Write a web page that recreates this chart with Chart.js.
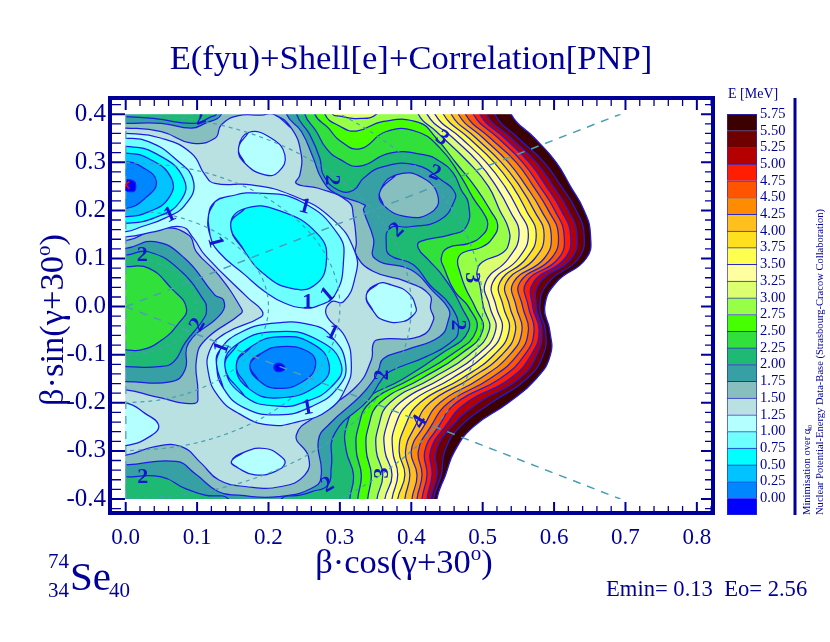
<!DOCTYPE html>
<html><head><meta charset="utf-8">
<style>html,body{margin:0;padding:0;background:#fff}#wrap{position:relative;width:830px;height:642px;overflow:hidden}canvas{position:absolute;display:block}</style>
<script src="https://cdn.jsdelivr.net/npm/chart.js@4"></script>
</head><body><div id="wrap"><canvas id="main" width="830" height="642" style="left:0;top:0"></canvas><canvas id="bar" width="130" height="430" style="left:700px;top:100px"></canvas></div>
<script>
const betaRows=[.40,.35,.30,.25,.20,.15,.10,.05,0,-.05,-.10,-.15,-.20,-.25,-.30,-.35,-.40];
const e575=[.540,.573,.603,.623,.642,.651,.645,.603,.587,.594,.595,.575,.536,.487,.461,.448,.436];
const e550=[.517,.550,.586,.610,.631,.642,.634,.592,.580,.588,.585,.562,.512,.468,.447,.442,.431];
const e525=[.505,.540,.575,.599,.620,.632,.624,.580,.575,.583,.576,.551,.494,.456,.435,.436,.427];
const e500=[.496,.531,.565,.589,.610,.623,.615,.571,.570,.579,.568,.538,.477,.447,.427,.429,.422];
const e475=[.487,.522,.556,.580,.601,.614,.606,.561,.564,.572,.559,.524,.463,.438,.419,.422,.415];
const e450=[.476,.511,.547,.571,.592,.606,.596,.552,.556,.564,.549,.510,.452,.427,.410,.415,.408];
const e425=[.466,.501,.536,.561,.582,.596,.586,.543,.547,.555,.538,.496,.440,.417,.400,.408,.401];
const e400=[.456,.491,.526,.552,.572,.586,.573,.533,.538,.546,.527,.482,.426,.405,.392,.398,.391];
const e375=[.445,.481,.516,.542,.561,.575,.561,.524,.529,.537,.516,.470,.412,.391,.383,.391,.381];
const e350=[.433,.470,.505,.531,.550,.564,.550,.514,.519,.527,.504,.456,.398,.377,.374,.381,.373];
const e325=[.422,.459,.494,.519,.538,.551,.536,.504,.510,.518,.493,.442,.384,.365,.363,.373,.363];
const e300=[[.41,.44],[.41,.40],[.435,.364],[.480,.300],[.508,.250],[.524,.200],[.536,.163],[.537,.134],[.528,.112],[.500,.093],[.492,.072],[.496,.045],[.501,0],[.509,-.05],[.481,-.10],[.428,-.15],[.370,-.20],[.354,-.25],[.351,-.30],[.360,-.35],[.352,-.40],[.352,-.44],[-.05,-.44],[-.05,.44]];
const e300top=[[.283,.44],[.29,.40],[.30,.396],[.323,.391],[.351,.40],[.36,.44]];
const e275=[[.279,.44],[.279,.40],[.30,.375],[.323,.365],[.361,.385],[.410,.383],[.435,.35],[.463,.298],[.491,.246],[.512,.197],[.521,.17],[.514,.143],[.499,.124],[.472,.112],[.465,.097],[.468,.073],[.476,.038],[.489,0],[.500,-.05],[.468,-.10],[.414,-.15],[.356,-.20],[.340,-.25],[.337,-.30],[.344,-.35],[.339,-.40],[.339,-.44],[-.05,-.44],[-.05,.44]];
const e250=[[.265,.44],[.265,.40],[.284,.371],[.30,.345],[.328,.328],[.365,.364],[.407,.364],[.44,.33],[.468,.274],[.487,.225],[.503,.19],[.507,.17],[.50,.149],[.482,.132],[.451,.122],[.442,.101],[.446,.08],[.461,.031],[.48,0],[.491,-.05],[.456,-.10],[.40,-.15],[.342,-.20],[.326,-.25],[.323,-.30],[.33,-.35],[.325,-.40],[.325,-.44],[-.05,-.44],[-.05,.44]];
const e225=[[.251,.44],[.251,.40],[.267,.364],[.281,.329],[.30,.306],[.328,.292],[.37,.319],[.417,.316],[.44,.302],[.459,.277],[.47,.2425],[.48,.215],[.477,.166],[.454,.149],[.412,.135],[.41,.121],[.424,.097],[.445,.062],[.47,0],[.48,-.05],[.44,-.10],[.389,-.15],[.328,-.20],[.309,-.25],[.309,-.30],[.319,-.35],[.314,-.40],[.314,-.44],[-.05,-.44],[-.05,.44]];
const e225left=[[-.05,.083],[0,.083],[.032,.08],[.064,.038],[.085,-.003],[.074,-.035],[.05,-.07],[.022,-.09],[0,-.09],[-.05,-.09]];
const e200=[[.24,.44],[.2394,.40],[.258,.357],[.272,.308],[.277,.273],[.298,.242],[.319,.242],[.333,.267],[.361,.291],[.407,.294],[.445,.26],[.459,.2425],[.461,.222],[.44,.18],[.398,.166],[.37,.163],[.365,.128],[.37,.107],[.403,.087],[.426,.045],[.456,0],[.466,-.05],[.454,-.076],[.421,-.104],[.37,-.135],[.358,-.153],[.34,-.194],[.293,-.263],[.288,-.333],[.283,-.371],[.26,-.385],[.244,-.392],[.218,-.40],[.218,-.44],[.144,-.44],[.144,-.40],[.111,-.392],[.083,-.378],[.05,-.354],[0,-.354],[-.05,-.354],[-.05,-.125],[0,-.125],[.046,-.125],[.067,-.115],[.083,-.076],[.111,-.021],[.113,0],[.111,.01],[.078,.073],[.032,.114],[0,.107],[-.05,.107],[-.05,.395],[0,.395],[.041,.391],[.097,.381],[.12,.395],[.127,.40],[.127,.44]];
const e175=[[.2254,.44],[.2254,.40],[.246,.364],[.263,.308],[.274,.267],[.293,.236],[.335,.211],[.333,.201],[.347,.142],[.349,.10],[.40,.076],[.431,.031],[.452,-.004],[.452,-.028],[.44,-.062],[.393,-.09],[.361,-.108],[.354,-.132],[.347,-.153],[.328,-.187],[.286,-.243],[.27,-.277],[.274,-.347],[.265,-.374],[.214,-.395],[.158,-.392],[.13,-.385],[.097,-.347],[.071,-.322],[0,-.329],[-.05,-.329],[-.05,-.156],[0,-.156],[.064,-.156],[.083,-.132],[.088,-.076],[.134,-.014],[.137,.0137],[.125,.024],[.083,.10],[.041,.135],[0,.121],[-.05,.121],[-.05,.381],[0,.381],[.05,.381],[.092,.371],[.111,.381],[.134,.40],[.134,.44]];
const e175blob=[[.356,.239],[.379,.274],[.417,.267],[.438,.225],[.426,.194],[.393,.187],[.361,.211]];
const e150=[[.207,.40],[.232,.371],[.246,.315],[.244,.274],[.239,.256],[.27,.246],[.312,.218],[.319,.187],[.323,.135],[.323,.107],[.347,.073],[.393,.052],[.426,.024],[.427,-.004],[.431,-.028],[.412,-.062],[.356,-.068],[.347,-.076],[.344,-.111],[.323,-.166],[.272,-.222],[.239,-.267],[.256,-.312],[.251,-.35],[.218,-.374],[.167,-.374],[.13,-.36],[.106,-.326],[.078,-.291],[.041,-.291],[0,-.309],[-.05,-.309],[-.05,-.173],[0,-.173],[.041,-.187],[.097,-.201],[.101,-.18],[.099,-.111],[.111,-.07],[.162,-.014],[.162,-.004],[.13,.066],[.099,.114],[.088,.149],[.05,.163],[0,.137],[-.05,.137],[-.05,.371],[0,.371],[.05,.364],[.092,.34],[.125,.35],[.134,.378],[.158,.397],[.19,.398]];
const e125=[[-.05,.36],[0,.36],[.05,.35],[.092,.319],[.111,.274],[.125,.256],[.176,.253],[.232,.232],[.288,.184],[.321,.114],[.321,.059],[.305,.01],[.288,.01],[.281,-.017],[.307,-.062],[.316,-.118],[.309,-.167],[.284,-.215],[.242,-.239],[.2,-.246],[.158,-.222],[.13,-.187],[.116,-.139],[.118,-.09],[.139,-.056],[.19,-.021],[.19,-.007],[.172,.017],[.111,.107],[.095,.142],[.078,.166],[.041,.156],[0,.145],[-.05,.145]];
const e125top=[[.158,.329],[.172,.362],[.204,.35],[.223,.315],[.214,.28],[.195,.274],[.167,.298]];
const e125right=[[.337,.024],[.354,.048],[.372,.045],[.396,.028],[.407,-.004],[.405,-.014],[.389,-.031],[.361,-.028],[.347,-.01]];
const e125left=[[-.05,-.2],[0,-.2],[.027,-.222],[.046,-.246],[.037,-.267],[0,-.289],[-.05,-.289]];
const e125low=[[.148,-.322],[.167,-.302],[.195,-.295],[.218,-.312],[.223,-.326],[.209,-.343],[.181,-.35],[.158,-.336]];
const e100left=[[-.05,.35],[0,.35],[.032,.343],[.069,.308],[.095,.26],[.083,.211],[.055,.184],[.022,.166],[0,.156],[-.05,.156]];
const e100mid=[[.116,.19],[.125,.218],[.144,.229],[.186,.236],[.246,.218],[.298,.149],[.305,.093],[.293,.024],[.27,.002],[.251,-.003],[.223,.007],[.195,.031],[.167,.066],[.13,.114],[.118,.149]];
const e100low=[[.127,-.118],[.132,-.09],[.158,-.056],[.204,-.035],[.26,-.038],[.288,-.062],[.308,-.118],[.298,-.167],[.26,-.208],[.214,-.225],[.167,-.211],[.137,-.17]];
const e075left=[[-.05,.333],[0,.333],[.041,.319],[.081,.267],[.076,.218],[.041,.185],[0,.173],[-.05,.173]];
const e075mid=[[.147,.17],[.167,.204],[.214,.2],[.27,.149],[.281,.093],[.265,.045],[.232,.038],[.195,.066],[.167,.114]];
const e075low=[[.139,-.125],[.158,-.076],[.214,-.052],[.27,-.07],[.302,-.121],[.288,-.167],[.251,-.198],[.214,-.207],[.167,-.187]];
const e050left=[[-.05,.319],[0,.319],[.032,.308],[.064,.267],[.06,.225],[.032,.197],[0,.187],[-.05,.187]];
const e050low=[[.155,-.121],[.176,-.083],[.214,-.063],[.26,-.076],[.285,-.121],[.27,-.163],[.214,-.19],[.172,-.17]];
const e025left=[[-.05,.301],[0,.301],[.022,.291],[.043,.26],[.027,.225],[0,.204],[-.05,.204]];
const e025low=[[.174,-.121],[.19,-.097],[.218,-.083],[.256,-.094],[.266,-.121],[.251,-.153],[.214,-.17],[.186,-.153]];
const e000left=[[-.05,.264],[0,.264],[.012,.26],[.014,.25],[.012,.24],[0,.24],[-.05,.24]];
const e000low=[[.209,-.121],[.216,-.118],[.223,-.128],[.216,-.135],[.209,-.132]];
const minimumX=[0],minimumY=[.253];
const arcRadii=[.1,.2,.3,.4,.5];
const arcCos=[0,.259,.5,.707,.866,.966,1,.966,.866,.707,.5,.259,0];
const arcSin=[1,.966,.866,.707,.5,.259,0,-.259,-.5,-.707,-.866,-.966,-1];
const radials=[[[0,0],[.693,.4]],[[0,0],[.693,-.4]],[[0,-.4],[0,.4]]];
const legendValues=[0,.25,.5,.75,1,1.25,1.5,1.75,2,2.25,2.5,2.75,3,3.25,3.5,3.75,4,4.25,4.5,4.75,5,5.25,5.5,5.75];
const bandColors=['#0000ff','#0087ff','#00c3ff','#00ffff','#6effff','#b4ffff','#b9e1e1','#87bebe','#37a0a5','#1eb973','#32e03c','#46ff00','#96ff46','#dcff70','#ffffa0','#ffff50','#ffe01e','#ffc01e','#ff8c00','#ff5500','#ff1e00','#b40000','#6e0000','#3c0000'];
const labelText=['2','1','1','1','1','1','1','1','1','2','2','2','2','2','2','2','2','2','3','3','3','4'];
const labelX=[.104,.062,.125,.251,.283,.255,.135,.289,.255,.023,.101,.024,.283,.289,.38,.433,.465,.359,.443,.485,.359,.412];
const labelY=[.392,.19,.134,.207,.024,.008,-.086,-.055,-.211,.107,-.038,-.354,-.371,.263,.159,.277,-.038,-.142,.35,.06,-.346,-.24];
const labelAngle=[-20,-25,75,15,-40,0,-70,25,-10,0,-60,0,-30,90,-45,20,90,-90,35,90,-90,-58];

const navy='#000099',lineBlue='#1c1ce6',dashTeal='#4a9fb5',serif='"Liberation Serif","Times New Roman",serif';
const pts=a=>a.map(p=>({x:p[0],y:p[1]}));
const ring=a=>{const n=a.length;return pts([a[n-1]].concat(a,[a[0],a[1]]));};
const chain=xs=>{const r=xs.map((x,i)=>({x,y:betaRows[i]}));const first={x:xs[0],y:.44},last={x:xs[xs.length-1],y:-.44};return [first,...r,last,{x:-.05,y:-.44},{x:-.05,y:.44},first];};
const layers=[[chain(e575),23],[chain(e550),22],[chain(e525),21],[chain(e500),20],[chain(e475),19],[chain(e450),18],[chain(e425),17],[chain(e400),16],[chain(e375),15],[chain(e350),14],[chain(e325),13],
[ring(e300),12],[ring(e300top),13],[ring(e275),11],[ring(e250),10],[ring(e225),9],[ring(e225left),10],[ring(e200),8],[ring(e175),7],[ring(e175blob),7],[ring(e150),6],
[ring(e125),5],[ring(e125top),5],[ring(e125right),5],[ring(e125left),5],[ring(e125low),5],[ring(e100left),4],[ring(e100mid),4],[ring(e100low),4],[ring(e075left),3],[ring(e075mid),3],[ring(e075low),3],[ring(e050left),2],[ring(e050low),2],[ring(e025left),1],[ring(e025low),1],[ring(e000left),0],[ring(e000low),0]];
const datasets=layers.map(l=>({data:l[0],showLine:true,fill:'shape',backgroundColor:bandColors[l[1]],borderColor:lineBlue,borderWidth:1.25,pointRadius:0,tension:.48}));
arcRadii.forEach(r=>datasets.push({data:arcCos.map((c,i)=>({x:r*c,y:r*arcSin[i]})),showLine:true,fill:false,borderColor:dashTeal,borderWidth:1.2,borderDash:[4,4],pointRadius:0,tension:.35}));
radials.forEach(a=>datasets.push({data:pts(a),showLine:true,fill:false,borderColor:dashTeal,borderWidth:1.5,borderDash:[8,7],pointRadius:0}));
datasets.push({data:minimumX.map((x,i)=>({x,y:minimumY[i]})),showLine:false,pointStyle:'crossRot',pointRadius:5,pointBorderColor:'#ff0000',pointBorderWidth:1.5,clip:false});
datasets.forEach((d,i)=>{d.order=datasets.length-i;});

const isMajor=v=>Math.abs(v*10-Math.round(v*10))<1e-6;
const tickFmt=v=>isMajor(v)?(Math.abs(v)<1e-9?'0.0':v.toFixed(1)):'';
function axisTitle(g,head,cx,cy,rot){
 g.save();g.translate(cx,cy);g.rotate(rot);g.textAlign='left';g.textBaseline='alphabetic';
 g.font='34.5px '+serif;const w1=g.measureText(head).width,w3=g.measureText(')').width;
 g.font='21px '+serif;const w2=g.measureText('o').width;
 let x=-(w1+w2+w3)/2;
 g.font='34.5px '+serif;g.fillText(head,x,11);x+=w1;
 g.font='21px '+serif;g.fillText('o',x,-2);x+=w2;
 g.font='34.5px '+serif;g.fillText(')',x,11);
 g.restore();
}
const decor={id:'decor',afterDatasetsDraw(c){
 const g=c.ctx,A=c.chartArea,X=c.scales.x,Y=c.scales.y;
 g.save();
 g.font='bold 22px '+serif;g.fillStyle='#1414d2';g.textAlign='center';g.textBaseline='middle';
 labelText.forEach((t,i)=>{g.save();g.translate(X.getPixelForValue(labelX[i]),Y.getPixelForValue(labelY[i]));g.rotate(labelAngle[i]*Math.PI/180);g.fillText(t,0,0);g.restore();});
 g.fillStyle='#fff';
 const x0=X.getPixelForValue(0),yt=Y.getPixelForValue(.4),yb=Y.getPixelForValue(-.4);
 g.fillRect(A.left,A.top,x0-A.left-.5,A.bottom-A.top);
 g.fillRect(A.left,A.top,A.right-A.left,yt-A.top);
 g.fillRect(A.left,yb,A.right-A.left,A.bottom-yb);
 g.strokeStyle=navy;
 X.ticks.forEach(t=>{const p=X.getPixelForValue(t.value),m=isMajor(t.value);if(p<A.left+4)return;g.lineWidth=m?2:1.3;const l=m?11:7;g.beginPath();g.moveTo(p,A.top);g.lineTo(p,A.top+l);g.moveTo(p,A.bottom);g.lineTo(p,A.bottom-l);g.stroke();});
 Y.ticks.forEach(t=>{const p=Y.getPixelForValue(t.value),m=isMajor(t.value);g.lineWidth=m?2:1.3;g.beginPath();g.moveTo(A.left,p);g.lineTo(A.left+(m?14:10),p);g.moveTo(A.right,p);g.lineTo(A.right-(m?11:7),p);g.stroke();});
 g.lineWidth=4;g.strokeRect(A.left-1,A.top-1,A.right-A.left+2,A.bottom-A.top+1);
 g.fillStyle=navy;g.textBaseline='alphabetic';g.textAlign='center';
 g.font='34.6px '+serif;g.fillText('E(fyu)+Shell[e]+Correlation[PNP]',411,69);
 axisTitle(g,'β·cos(γ+30',404,562,0);
 axisTitle(g,'β·sin(γ+30',52,320,-Math.PI/2);
 g.textAlign='left';
 g.font='21px '+serif;g.fillText('74',48,568);g.fillText('34',48,597);g.fillText('40',109,597);
 g.font='41px '+serif;g.fillText('Se',70,590);
 g.font='22.6px '+serif;g.fillText('Emin= 0.13  Eo= 2.56',606,596);
 g.font='14px '+serif;g.fillText('E [MeV]',728,98);
 g.fillRect(793.5,98,3,417);
 g.font='10.55px '+serif;
 g.save();g.translate(810,515);g.rotate(-Math.PI/2);g.fillText('Minimisation over α',0,0);g.font='6px '+serif;g.fillText('40',84,2);g.restore();
 g.save();g.translate(823,515);g.rotate(-Math.PI/2);g.fillText('Nuclear Potential-Energy Data-Base (Strasbourg-Cracow Collaboration)',0,0);g.restore();
 g.restore();
}};
new Chart(document.getElementById('main'),{type:'scatter',data:{datasets},plugins:[decor],options:{
 responsive:false,animation:false,devicePixelRatio:1,events:[],
 layout:{padding:{right:118,left:0,top:99,bottom:0}},
 plugins:{legend:{display:false},tooltip:{enabled:false},title:{display:false}},
 scales:{
  x:{type:'linear',min:-.0206,max:.8212,grid:{display:false,drawTicks:false},border:{display:false},afterFit(s){s.height=129;},
   ticks:{stepSize:.02,includeBounds:false,autoSkip:false,maxRotation:0,minRotation:0,padding:11,color:navy,font:{family:serif,size:23},callback:tickFmt}},
  y:{type:'linear',min:-.4291,max:.4316,grid:{display:false,drawTicks:false},border:{display:false},afterFit(s){s.width=111;},
   ticks:{stepSize:.02,includeBounds:false,autoSkip:false,padding:5,color:navy,font:{family:serif,size:25},callback:tickFmt}}
 }}});
const barSets=legendValues.map((v,i)=>({data:[[v-.25,v]],backgroundColor:bandColors[i],borderColor:'#2a2ac8',borderWidth:1,barPercentage:1,categoryPercentage:1,grouped:false}));
new Chart(document.getElementById('bar'),{type:'bar',data:{labels:['E'],datasets:barSets},options:{
 responsive:false,animation:false,devicePixelRatio:1,events:[],
 layout:{padding:{left:27,top:14,bottom:15,right:0}},
 plugins:{legend:{display:false},tooltip:{enabled:false}},
 scales:{x:{display:false,stacked:false},
  y:{position:'right',min:-.25,max:5.75,grid:{display:false,drawTicks:false},border:{display:false},afterFit(s){s.width=73;},
   ticks:{stepSize:.25,includeBounds:false,autoSkip:false,padding:3,color:navy,font:{family:serif,size:14.5},callback:v=>v<0?'':v.toFixed(2)}}
 }}});
</script></body></html>
